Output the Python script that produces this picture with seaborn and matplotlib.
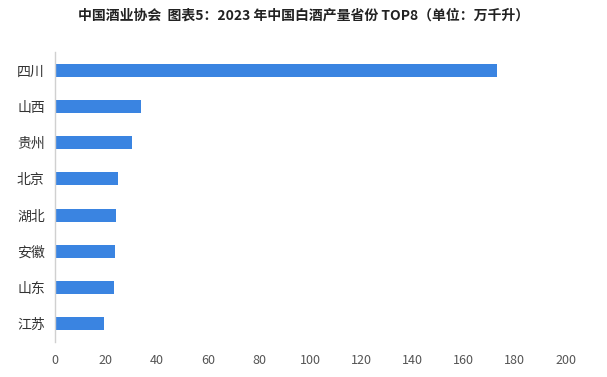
import matplotlib
matplotlib.use("Agg")
import matplotlib.pyplot as plt
import seaborn as sns
import pandas as pd

# 数据（单位：万千升）
provinces = ['四川', '山西', '贵州', '北京', '湖北', '安徽', '山东', '江苏']
output = [172.9, 33.8, 30.3, 24.8, 24.0, 23.6, 23.3, 19.4]
xticks = [0, 20, 40, 60, 80, 100, 120, 140, 160, 180, 200]

df = pd.DataFrame({'province': provinces, 'output': output})

sns.set_style('white')
plt.rcParams['font.family'] = ['Noto Sans CJK SC', 'DejaVu Sans']
plt.rcParams['axes.unicode_minus'] = False

fig = plt.figure(figsize=(6.07, 3.77), dpi=100)
ax = fig.add_axes([54.5 / 607, (377 - 342) / 377, (566 - 54.5) / 607, 290 / 377])

sns.barplot(data=df, x='output', y='province', color='#3a84e1', saturation=1,
            width=0.36, orient='h', linewidth=0, ax=ax)

ax.set_xlim(0, 200)
ax.set_ylim(7.5, -0.5)
ax.set_xticks(xticks)
ax.set_xticklabels([str(t) for t in xticks], fontsize=9, color='#555555')
ax.tick_params(axis='x', length=0, pad=9)
ax.tick_params(axis='y', length=0, pad=7, labelsize=10, labelcolor='#333333')
ax.set_xlabel('')
ax.set_ylabel('')

for s in ['top', 'right', 'bottom']:
    ax.spines[s].set_visible(False)
ax.spines['left'].set_color('#d0d0d0')
ax.spines['left'].set_linewidth(1)

fig.text(0.5, 1 - 16 / 377, '中国酒业协会  图表5：2023 年中国白酒产量省份 TOP8（单位：万千升）',
         ha='center', va='center', fontsize=10, fontweight='bold', color='#222222')

fig.savefig('out.png', dpi=100)
